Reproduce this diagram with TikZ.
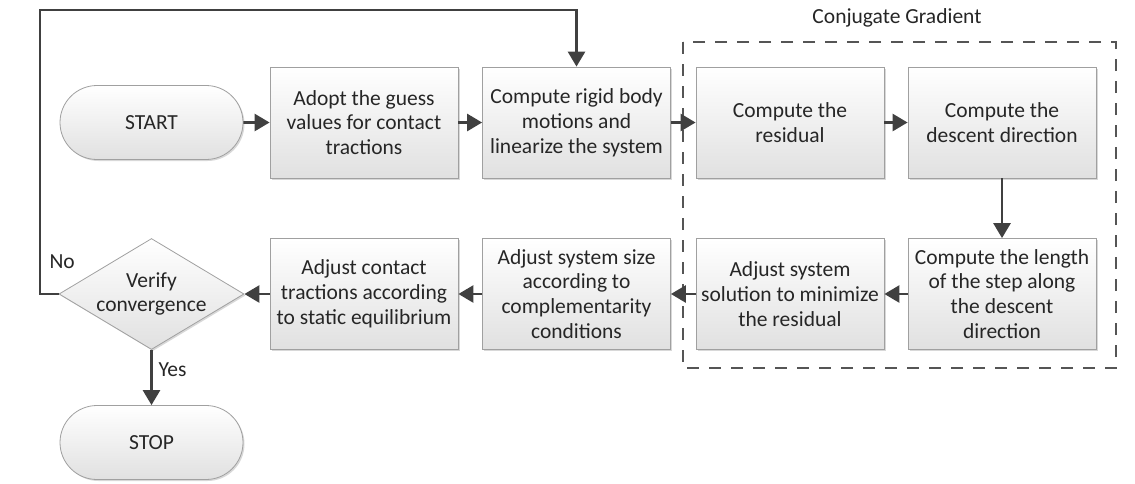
\documentclass[tikz,border=0pt]{standalone}
\usepackage{fontspec}
\setmainfont{Carlito}
\usetikzlibrary{shapes.geometric,shapes.misc,arrows.meta,shadows}
\definecolor{arr}{HTML}{404040}
\definecolor{bord}{HTML}{A0A0A0}
\definecolor{dashcol}{HTML}{555555}
\definecolor{txtcol}{HTML}{262626}
\begin{document}
\begin{tikzpicture}[x=1pt,y=-1pt,
  txt/.style={font=\fontsize{21.5}{24.8}\selectfont, text=txtcol, align=center},
  box/.style={txt, rectangle, draw=bord, line width=0.8pt, top color=white, bottom color=black!12,
    minimum width=188pt, minimum height=111pt, inner sep=2pt,
    drop shadow={shadow xshift=1.5pt, shadow yshift=-1.5pt, fill=black!30, opacity=0.5}},
  term/.style={box, rounded rectangle, minimum height=74pt, minimum width=187pt},
  dec/.style={box, diamond, minimum width=185pt, minimum height=111pt, inner sep=0pt},
  flow/.style={draw=arr, line width=2.7pt, -{Triangle[length=15pt,width=17pt]}},
  frame/.style={draw=dashcol, line width=1.8pt, dash pattern=on 12pt off 10pt}
]
\useasboundingbox (0,0) rectangle (1135,483);

% Conjugate gradient frame
\draw[frame] (683,42) rectangle (1116,368);
\node[txt] (cg) at (897,18) {Conjugate Gradient};

% top row
\node[term] (start) at (151.5,122.5) {START};
\node[box] (adopt) at (364,122.5) {Adopt the guess\\values for contact\\tractions};
\node[box] (rig) at (576.5,122.5) {Compute rigid body\\motions and\\linearize the system};
\node[box] (res) at (790,122.5) {Compute the\\residual};
\node[box] (desc) at (1002,122.5) {Compute the\\descent direction};

% bottom row
\node[box] (len) at (1002,294) {Compute the length\\of the step along\\the descent\\direction};
\node[box] (sol) at (790,294) {Adjust system\\solution to minimize\\the residual};
\node[box] (size) at (576.5,294) {Adjust system size\\according to\\complementarity\\conditions};
\node[box] (cont) at (364,294) {Adjust contact\\tractions according\\to static equilibrium};
\node[dec] (ver) at (151.5,294) {};
\node[txt] (vertxt) at (151.5,294) {Verify\\convergence};
\node[term] (stop) at (151.5,442.5) {STOP};

% connectors
\draw[flow] (start) -- (adopt);
\draw[flow] (adopt) -- (rig);
\draw[flow] (rig) -- (res);
\draw[flow] (res) -- (desc);
\draw[flow] (desc) -- (len);
\draw[flow] (len) -- (sol);
\draw[flow] (sol) -- (size);
\draw[flow] (size) -- (cont);
\draw[flow] (cont) -- (ver.east);
\draw[flow] (ver.south) -- (stop.north);
\coordinate (lp) at (40,10);
\draw[flow] (ver.west) -| (lp) -| (rig.north);

\node[txt, anchor=west] (yes) at (155,370) {Yes};
\node[txt, anchor=west] (no) at (46,262) {No};
\end{tikzpicture}
\end{document}
